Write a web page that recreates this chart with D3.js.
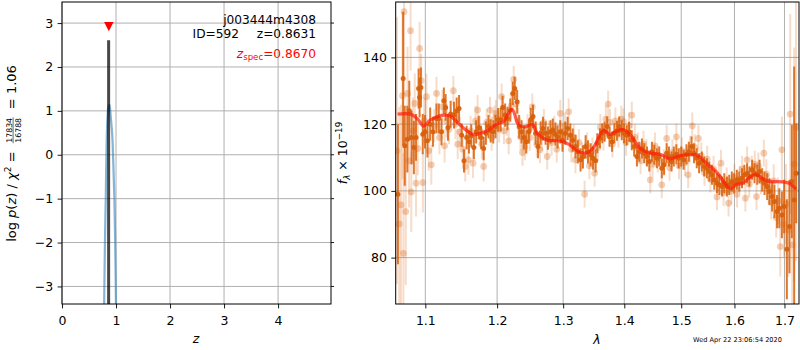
<!DOCTYPE html>
<html>
<head>
<meta charset="utf-8">
<script src="https://cdn.jsdelivr.net/npm/d3@7"></script>
<style>
  body { margin: 0; background: #fff; }
  svg { display: block; font-family: "DejaVu Sans", sans-serif; }
  text { white-space: pre; }
</style>
</head>
<body>
<svg id="fig" width="800" height="350"></svg>
<script>
// ---------- redshift probability panel ----------
const zGrid  = [0.780, 0.795, 0.810, 0.825, 0.840, 0.860, 0.876, 0.890, 0.900, 0.930, 0.950, 0.970, 0.985, 1.000];
const logPz  = [-3.45, -2.0, -1.0, 0.2, 0.8, 1.10, 1.14, 1.05, 0.90, 0.45, -0.2, -1.0, -2.0, -3.45];
const zTicks = [0, 1, 2, 3, 4];
const pTicks = [-3, -2, -1, 0, 1, 2, 3];
const fieldName = "j003444m4308";
const objId = 592;
const zBest = 0.8631;
const zSpec = 0.8670;
const pzPeak = 2.61;      // height of the best-fit redshift bar
const specMarkLevel = 2.92;
const chi2 = 17834, nDof = 16788;
const stamp = "Wed Apr 22 23:06:54 2020";

// ---------- spectrum panel ----------
// [wavelength (micron), flux, error]
const specDark = [
  [1.0640, 99.0, 21], [1.0708, 133.7, 20], [1.0729, 113.5, 12], [1.0763, 115.5, 10], [1.0788, 124.0, 9],
  [1.0818, 116.0, 8], [1.0848, 113.0, 8], [1.0877, 116.0, 7], [1.0911, 130.7, 6], [1.0924, 128.0, 6],
  [1.0941, 131.0, 6], [1.0966, 117.0, 6], [1.0996, 117.7, 5], [1.1028, 115.0, 5], [1.1065, 120.0, 5],
  [1.1102, 117.7, 4.5], [1.1149, 121.7, 4.5], [1.1181, 121.7, 4.5], [1.1218, 117.7, 4], [1.1250, 127.0, 4],
  [1.1274, 125.0, 4], [1.1306, 119.0, 4], [1.1343, 123.0, 4], [1.1389, 122.7, 4], [1.1426, 124.0, 4],
  [1.1459, 124.7, 4], [1.1496, 116.7, 3.5], [1.1528, 109.0, 3.5], [1.1565, 116.0, 3.5], [1.1597, 114.7, 3.5],
  [1.1630, 116.5, 3.5], [1.1667, 113.0, 3.5], [1.1699, 117.7, 3.5], [1.1736, 119.0, 3.5], [1.1769, 116.0, 3.5],
  [1.1806, 112.7, 3.5], [1.1838, 117.3, 3.5], [1.1875, 119.3, 3.5], [1.1907, 118.0, 3.5], [1.1944, 117.7, 3.5],
  [1.1977, 119.3, 3.5], [1.2015, 121.3, 3.5], [1.2051, 121.3, 3.5], [1.2081, 125.0, 3.5], [1.2117, 122.7, 3.5],
  [1.2152, 121.7, 3.5], [1.2193, 124.2, 3.5], [1.2229, 129.2, 3.5], [1.2259, 130.7, 3.5], [1.2295, 126.7, 3.5],
  [1.2325, 119.2, 3.5], [1.2361, 117.7, 3.5], [1.2396, 116.0, 3.5], [1.2432, 114.7, 3.5], [1.2472, 117.7, 3.5],
  [1.2498, 121.3, 3.5], [1.2533, 122.3, 3.5], [1.2574, 117.3, 3.5], [1.2610, 113.3, 3.5], [1.2650, 117.3, 3.5],
  [1.2686, 118.7, 3.5], [1.2726, 117.3, 3.5], [1.2762, 115.8, 3.5], [1.2803, 117.7, 3.5], [1.2838, 118.2, 3.5],
  [1.2879, 117.0, 3.5], [1.2914, 116.2, 3.5], [1.2955, 117.7, 3.5], [1.2990, 115.2, 3.5], [1.3033, 117.3, 3.5],
  [1.3071, 118.7, 3.5], [1.3114, 116.7, 3.5], [1.3152, 115.2, 3.5], [1.3196, 113.3, 3.5], [1.3234, 111.7, 3.5],
  [1.3277, 109.3, 3.5], [1.3316, 110.2, 3.5], [1.3359, 113.2, 3.5], [1.3397, 111.7, 3.5], [1.3441, 110.8, 3.5],
  [1.3479, 109.8, 3.5], [1.3522, 109.0, 3.5], [1.3549, 114.3, 3], [1.3593, 115.8, 3], [1.3631, 117.3, 3],
  [1.3669, 117.7, 3], [1.3713, 119.3, 3], [1.3751, 116.2, 3], [1.3794, 114.7, 3], [1.3832, 117.3, 3],
  [1.3876, 118.0, 3], [1.3914, 119.3, 3], [1.3958, 118.2, 3], [1.3996, 117.3, 3], [1.4041, 116.7, 3],
  [1.4082, 117.7, 3], [1.4128, 115.2, 3], [1.4169, 113.3, 3], [1.4216, 110.3, 3], [1.4256, 111.7, 3],
  [1.4303, 112.7, 3], [1.4343, 111.3, 3], [1.4390, 110.3, 3], [1.4431, 108.8, 3], [1.4477, 111.7, 3],
  [1.4518, 110.8, 3], [1.4564, 109.8, 3], [1.4605, 110.3, 3], [1.4651, 106.8, 3], [1.4692, 107.8, 3],
  [1.4738, 111.3, 3], [1.4779, 110.3, 3], [1.4825, 108.8, 3], [1.4866, 110.3, 3], [1.4912, 111.0, 3],
  [1.4953, 109.8, 3], [1.5000, 110.3, 3], [1.5044, 109.3, 3], [1.5095, 111.0, 3], [1.5139, 111.7, 3],
  [1.5190, 113.3, 3], [1.5234, 111.3, 3], [1.5285, 109.8, 3], [1.5329, 108.3, 3], [1.5380, 108.8, 3],
  [1.5424, 107.3, 3], [1.5475, 106.8, 3], [1.5519, 105.8, 3], [1.5570, 104.8, 3], [1.5614, 103.3, 3],
  [1.5665, 102.3, 3], [1.5709, 101.8, 3], [1.5760, 101.3, 3], [1.5804, 102.3, 3], [1.5855, 101.3, 3],
  [1.5899, 101.8, 3], [1.5949, 102.8, 3], [1.5994, 102.3, 3], [1.6047, 103.3, 3], [1.6093, 102.8, 3],
  [1.6147, 103.8, 3], [1.6193, 104.8, 3], [1.6247, 105.3, 3], [1.6293, 104.3, 3], [1.6347, 106.3, 3],
  [1.6394, 105.3, 3], [1.6447, 104.8, 3], [1.6494, 105.8, 3.5], [1.6547, 103.3, 3.5], [1.6594, 102.3, 3.5],
  [1.6647, 101.3, 4], [1.6694, 99.8, 4], [1.6747, 98.3, 4.5], [1.6794, 96.8, 5], [1.6847, 93.8, 5],
  [1.6894, 94.8, 6], [1.6947, 92.8, 7], [1.6993, 95.3, 8], [1.7049, 82.5, 15], [1.7104, 89.3, 14],
  [1.7152, 102.8, 17], [1.7201, 97.3, 40], [1.7243, 105.3, 15]
];

const specLight = [
  [1.0628, 112.0, 40], [1.0657, 90.1, 35], [1.0680, 95.8, 30], [1.0700, 128.5, 25], [1.0712, 81.3, 30],
  [1.0720, 153.7, 25], [1.0742, 93.8, 22], [1.0765, 129.2, 14], [1.0785, 109.0, 14], [1.0805, 148.0, 12],
  [1.0814, 99.7, 12], [1.0835, 118.0, 10], [1.0860, 126.2, 9], [1.0877, 102.3, 10], [1.0900, 112.7, 8],
  [1.0924, 142.7, 8], [1.0945, 133.0, 8], [1.0967, 102.5, 9], [1.0985, 121.0, 7], [1.1015, 128.2, 7],
  [1.1045, 112.0, 6], [1.1080, 107.8, 6], [1.1120, 119.5, 5], [1.1150, 129.2, 5], [1.1190, 116.0, 5],
  [1.1230, 125.2, 5], [1.1260, 113.5, 5], [1.1290, 121.0, 5], [1.1320, 118.5, 4.5], [1.1380, 130.0, 4.5],
  [1.1410, 120.0, 4.5], [1.1440, 114.0, 4.5], [1.1470, 117.7, 4.5], [1.1510, 112.5, 4.5], [1.1545, 107.3, 4.5],
  [1.1590, 109.3, 4.5], [1.1620, 118.0, 4.5], [1.1655, 108.3, 4.5], [1.1690, 121.0, 4.5], [1.1720, 124.2, 4.5],
  [1.1750, 118.0, 4.5], [1.1780, 114.0, 4.5], [1.1806, 107.3, 4.5], [1.1850, 120.5, 4], [1.1898, 124.2, 4],
  [1.1920, 116.0, 4], [1.1960, 121.5, 4], [1.1982, 123.2, 4], [1.2030, 118.5, 4], [1.2066, 128.2, 4],
  [1.2100, 118.0, 4], [1.2140, 120.5, 4], [1.2170, 115.0, 4], [1.2205, 125.5, 4], [1.2244, 133.4, 4],
  [1.2280, 126.0, 4], [1.2310, 121.0, 4], [1.2345, 116.2, 4], [1.2375, 111.5, 4], [1.2411, 113.2, 4],
  [1.2450, 119.0, 4], [1.2485, 116.0, 4], [1.2523, 125.2, 4], [1.2550, 119.0, 4], [1.2590, 114.0, 4],
  [1.2640, 112.3, 4], [1.2670, 116.0, 4], [1.2700, 120.5, 4], [1.2752, 110.3, 4], [1.2780, 117.0, 4],
  [1.2820, 114.5, 4], [1.2860, 118.5, 4], [1.2900, 112.5, 4], [1.2955, 123.2, 4], [1.2990, 116.5, 4],
  [1.3030, 119.5, 4], [1.3087, 123.7, 4], [1.3130, 112.5, 4], [1.3170, 116.0, 4], [1.3196, 109.3, 4],
  [1.3250, 114.5, 4], [1.3300, 110.5, 4], [1.3343, 99.0, 4], [1.3380, 113.5, 4], [1.3420, 107.5, 4],
  [1.3470, 112.0, 4], [1.3506, 105.3, 4], [1.3560, 113.0, 4], [1.3600, 119.0, 4], [1.3650, 116.0, 4],
  [1.3690, 121.5, 4], [1.3729, 126.0, 4], [1.3760, 120.5, 4], [1.3800, 114.0, 4], [1.3850, 121.0, 4],
  [1.3900, 117.0, 4], [1.3950, 121.5, 4], [1.3985, 120.7, 4], [1.4030, 114.5, 4], [1.4080, 119.5, 4],
  [1.4128, 122.7, 4], [1.4180, 116.0, 4], [1.4230, 113.5, 4], [1.4280, 109.0, 4], [1.4330, 114.0, 4],
  [1.4380, 111.5, 4], [1.4448, 103.3, 4], [1.4490, 108.0, 4], [1.4530, 113.5, 4], [1.4580, 109.5, 4],
  [1.4651, 101.8, 4], [1.4690, 108.5, 4], [1.4738, 115.7, 4], [1.4790, 107.0, 4], [1.4840, 111.5, 4],
  [1.4912, 116.2, 4], [1.4960, 107.5, 4], [1.5010, 112.0, 4], [1.5070, 108.5, 4], [1.5127, 104.8, 4],
  [1.5160, 112.5, 4], [1.5203, 119.5, 4], [1.5250, 113.0, 4], [1.5317, 115.7, 4], [1.5370, 110.5, 4],
  [1.5430, 105.5, 4], [1.5480, 109.5, 4], [1.5540, 103.5, 4], [1.5600, 106.5, 4], [1.5665, 98.2, 4],
  [1.5700, 104.0, 4], [1.5741, 108.3, 4], [1.5790, 99.5, 4], [1.5850, 103.0, 4], [1.5886, 96.3, 4],
  [1.5940, 100.0, 4], [1.6000, 104.0, 4], [1.6050, 99.0, 4], [1.6100, 103.5, 4], [1.6150, 106.5, 4],
  [1.6213, 97.8, 4], [1.6247, 109.3, 4], [1.6290, 102.0, 4], [1.6340, 106.5, 4], [1.6400, 108.0, 4],
  [1.6433, 98.3, 4], [1.6470, 107.5, 4], [1.6520, 103.0, 4], [1.6580, 111.3, 4], [1.6630, 105.0, 4.5],
  [1.6680, 100.5, 4.5], [1.6730, 96.5, 5], [1.6780, 103.0, 5], [1.6830, 92.0, 6], [1.6870, 97.0, 7],
  [1.6913, 83.3, 9], [1.6947, 112.3, 10], [1.6990, 90.0, 10], [1.7030, 96.0, 12], [1.7080, 88.3, 14],
  [1.7118, 123.0, 30], [1.7160, 83.8, 25], [1.7200, 108.0, 35], [1.7240, 119.0, 40]
];

const modelLam  = [1.0636, 1.0805, 1.0900, 1.0975, 1.1065, 1.1250, 1.1343, 1.1528, 1.1667, 1.1853,
                   1.1992, 1.2091, 1.2219, 1.2320, 1.2422, 1.2524, 1.2600, 1.2752, 1.2954, 1.3086,
                   1.3250, 1.3387, 1.3494, 1.3652, 1.3760, 1.3848, 1.3984, 1.4129, 1.4273, 1.4448,
                   1.4622, 1.4796, 1.5000, 1.5285, 1.5450, 1.5665, 1.5918, 1.6046, 1.6148, 1.6314,
                   1.6414, 1.6648, 1.6966, 1.7100, 1.7240];
const modelFlux = [123.0, 123.0, 121.5, 119.4, 121.2, 122.7, 122.3, 118.7, 116.9, 118.0,
                   120.0, 120.7, 124.4, 119.7, 119.2, 120.0, 117.2, 115.2, 115.0, 114.0,
                   111.7, 111.4, 113.2, 118.2, 116.9, 117.7, 118.4, 116.2, 112.7, 111.3,
                   111.0, 109.6, 110.6, 110.7, 108.5, 105.5, 100.7, 102.0, 102.2, 104.2,
                   104.9, 103.0, 102.7, 102.3, 100.5];
const lamTicks  = [1.1, 1.2, 1.3, 1.4, 1.5, 1.6, 1.7];
const fluxTicks = [80, 100, 120, 140];

// ---------- drawing ----------
const svg = d3.select("#fig");
const FS = 12.5;
const gridColor = "#b0b0b0";
const orange = "#d9600b";

function frame(g, x0, x1, y0, y1) {
  g.append("rect").attr("x", x0).attr("y", y0).attr("width", x1 - x0).attr("height", y1 - y0)
    .attr("fill", "none").attr("stroke", "#000").attr("stroke-width", 1);
}

function grid(g, xs, ys, xt, yt, box) {
  g.append("g").selectAll("line").data(xt).join("line")
    .attr("x1", d => xs(d)).attr("x2", d => xs(d)).attr("y1", box.y0).attr("y2", box.y1)
    .attr("stroke", gridColor).attr("stroke-width", 1);
  g.append("g").selectAll("line").data(yt).join("line")
    .attr("y1", d => ys(d)).attr("y2", d => ys(d)).attr("x1", box.x0).attr("x2", box.x1)
    .attr("stroke", gridColor).attr("stroke-width", 1);
}

function axes(g, xs, ys, xt, yt, box, xfmt, yfmt, rightTicks) {
  const ax = d3.axisBottom(xs).tickValues(xt).tickSize(4.4).tickPadding(3.5).tickFormat(xfmt);
  const xa = g.append("g").attr("transform", `translate(0,${box.y1})`).call(ax);
  const ay = d3.axisLeft(ys).tickValues(yt).tickSize(4.4).tickPadding(4.4).tickFormat(yfmt);
  const ya = g.append("g").attr("transform", `translate(${box.x0},0)`).call(ay);
  [xa, ya].forEach(a => {
    a.select(".domain").remove();
    a.selectAll("text").attr("font-size", FS).attr("font-family", "DejaVu Sans").attr("fill", "#000");
    a.selectAll("line").attr("stroke", "#000").attr("stroke-width", 0.9);
  });
  xa.selectAll("text").attr("dy", null).attr("y", 21);
  if (rightTicks) {
    g.append("g").selectAll("line").data(yt).join("line")
      .attr("x1", box.x1).attr("x2", box.x1 + 3).attr("y1", d => ys(d)).attr("y2", d => ys(d))
      .attr("stroke", "#000").attr("stroke-width", 0.9);
  }
}

const defs = svg.append("defs");

// ---- left: p(z) ----
const LB = { x0: 62, x1: 331, y0: 2, y1: 304 };
const xz = d3.scaleLinear().domain([0, 4.98]).range([LB.x0, LB.x1]);
const yz = d3.scaleLinear().domain([-3.4, 3.48]).range([LB.y1, LB.y0]);
defs.append("clipPath").attr("id", "clipL").append("rect")
  .attr("x", LB.x0).attr("y", LB.y0).attr("width", LB.x1 - LB.x0).attr("height", LB.y1 - LB.y0);

const gL = svg.append("g");
grid(gL, xz, yz, zTicks, pTicks, LB);
const dL = gL.append("g").attr("clip-path", "url(#clipL)");

dL.append("path")
  .datum(zGrid.map((z, i) => [z, logPz[i]]))
  .attr("d", d3.line().x(d => xz(d[0])).y(d => yz(d[1])).curve(d3.curveCatmullRom))
  .attr("fill", "none").attr("stroke", "#1f77b4").attr("stroke-opacity", 0.55).attr("stroke-width", 2.2);

dL.append("line")
  .attr("x1", xz(zBest)).attr("x2", xz(zBest)).attr("y1", yz(-3.4)).attr("y2", yz(pzPeak))
  .attr("stroke", "#000").attr("stroke-opacity", 0.72).attr("stroke-width", 3);

{
  const cx = xz(zSpec), cy = yz(specMarkLevel), h = 4.7;
  gL.append("path")
    .attr("d", `M${cx - h},${cy - h}L${cx + h},${cy - h}L${cx},${cy + h}Z`)
    .attr("fill", "red");
}

axes(gL, xz, yz, zTicks, pTicks, LB, d3.format("d"), d3.format("d"), true);
frame(gL, LB.x0, LB.x1, LB.y0, LB.y1);

// annotations
gL.append("text").attr("x", 316).attr("y", 23.5).attr("text-anchor", "end")
  .attr("font-size", 12.2).text(fieldName);
gL.append("text").attr("x", 239).attr("y", 38).attr("text-anchor", "end")
  .attr("font-size", 12.2).text(`ID=${objId}`);
gL.append("text").attr("x", 316).attr("y", 38).attr("text-anchor", "end")
  .attr("font-size", 12.2).text(`z=${zBest.toFixed(4)}`);
{
  const t = gL.append("text").attr("x", 316).attr("y", 57.5).attr("text-anchor", "end")
    .attr("font-size", 12.2).attr("fill", "red");
  t.append("tspan").attr("font-style", "italic").text("z");
  t.append("tspan").attr("font-size", 8.6).attr("dy", 2.5).text("spec");
  t.append("tspan").attr("dy", -2.5).text(`=${zSpec.toFixed(4)}`);
}

// y label with the fraction
{
  const LFS = 13;
  const g = svg.append("g").attr("transform", "translate(15.5,153.5) rotate(-90)");
  const t1 = g.append("text").attr("font-size", LFS);
  t1.append("tspan").text("log ");
  t1.append("tspan").attr("font-style", "italic").text("p");
  t1.append("tspan").text("(");
  t1.append("tspan").attr("font-style", "italic").text("z");
  t1.append("tspan").text(") / ");
  t1.append("tspan").attr("font-style", "italic").text("χ");
  t1.append("tspan").attr("font-size", 9.1).attr("dy", -5).text("2");
  t1.append("tspan").attr("dy", 5).text(" =  ");
  const num = g.append("text").attr("font-size", 7.8).attr("text-anchor", "middle").text(String(chi2));
  const den = g.append("text").attr("font-size", 7.8).attr("text-anchor", "middle").text(String(nDof));
  const t2 = g.append("text").attr("font-size", LFS).text(`  = ${(chi2 / nDof).toFixed(2)}`);
  const w1 = t1.node().getComputedTextLength();
  const wf = Math.max(num.node().getComputedTextLength(), den.node().getComputedTextLength()) + 1;
  const w2 = t2.node().getComputedTextLength();
  const W = w1 + wf + w2;
  const x0 = -W / 2;
  t1.attr("x", x0);
  const fc = x0 + w1 + wf / 2;
  num.attr("x", fc).attr("y", -3.8);
  den.attr("x", fc).attr("y", 5.2);
  g.append("line").attr("x1", fc - wf / 2).attr("x2", fc + wf / 2).attr("y1", -2.4).attr("y2", -2.4)
    .attr("stroke", "#000").attr("stroke-width", 0.6);
  t2.attr("x", x0 + w1 + wf);
}
svg.append("text").attr("x", 196).attr("y", 343).attr("text-anchor", "middle")
  .attr("font-size", FS).attr("font-style", "italic").text("z");

// ---- right: spectrum ----
const RB = { x0: 395.7, x1: 799, y0: 2, y1: 304 };
const xl = d3.scaleLog().domain([1.0612, 1.7302]).range([RB.x0, RB.x1]);
const yl = d3.scaleLinear().domain([66.1, 156.6]).range([RB.y1, RB.y0]);
defs.append("clipPath").attr("id", "clipR").append("rect")
  .attr("x", RB.x0).attr("y", RB.y0).attr("width", RB.x1 - RB.x0).attr("height", RB.y1 - RB.y0);

const gR = svg.append("g");
grid(gR, xl, yl, lamTicks, fluxTicks, RB);
const dR = gR.append("g").attr("clip-path", "url(#clipR)");

function errSeries(g, data, barOp, dotOp, r) {
  g.append("g").selectAll("line").data(data).join("line")
    .attr("x1", d => xl(d[0])).attr("x2", d => xl(d[0]))
    .attr("y1", d => yl(d[1] - d[2])).attr("y2", d => yl(d[1] + d[2]))
    .attr("stroke", orange).attr("stroke-opacity", barOp).attr("stroke-width", 2);
  g.append("g").selectAll("circle").data(data).join("circle")
    .attr("cx", d => xl(d[0])).attr("cy", d => yl(d[1])).attr("r", r)
    .attr("fill", orange).attr("fill-opacity", dotOp);
}
errSeries(dR, specLight, 0.22, 0.3, 3.4);
errSeries(dR, specDark, 0.85, 0.95, 2.5);

dR.append("path")
  .datum(modelLam.map((l, i) => [l, modelFlux[i]]))
  .attr("d", d3.line().x(d => xl(d[0])).y(d => yl(d[1])).curve(d3.curveCatmullRom))
  .attr("fill", "none").attr("stroke", "#ff1a0a").attr("stroke-opacity", 0.7).attr("stroke-width", 3.2);

axes(gR, xl, yl, lamTicks, fluxTicks, RB, d3.format(".1f"), d3.format("d"), false);
frame(gR, RB.x0, RB.x1, RB.y0, RB.y1);

{
  const t = svg.append("text").attr("font-size", FS).attr("text-anchor", "middle")
    .attr("transform", "translate(346.5,153) rotate(-90)");
  t.append("tspan").attr("font-style", "italic").text("f");
  t.append("tspan").attr("font-style", "italic").attr("font-size", 8.8).attr("dy", 3).text("λ");
  t.append("tspan").attr("dy", -3).text(" × 10");
  t.append("tspan").attr("font-size", 8.8).attr("dy", -5).text("−19");
}
svg.append("text").attr("x", 597).attr("y", 344).attr("text-anchor", "middle")
  .attr("font-size", FS).attr("font-style", "italic").text("λ");

svg.append("text").attr("x", 693).attr("y", 342).attr("font-size", 6.6).text(stamp);
</script>
</body>
</html>
